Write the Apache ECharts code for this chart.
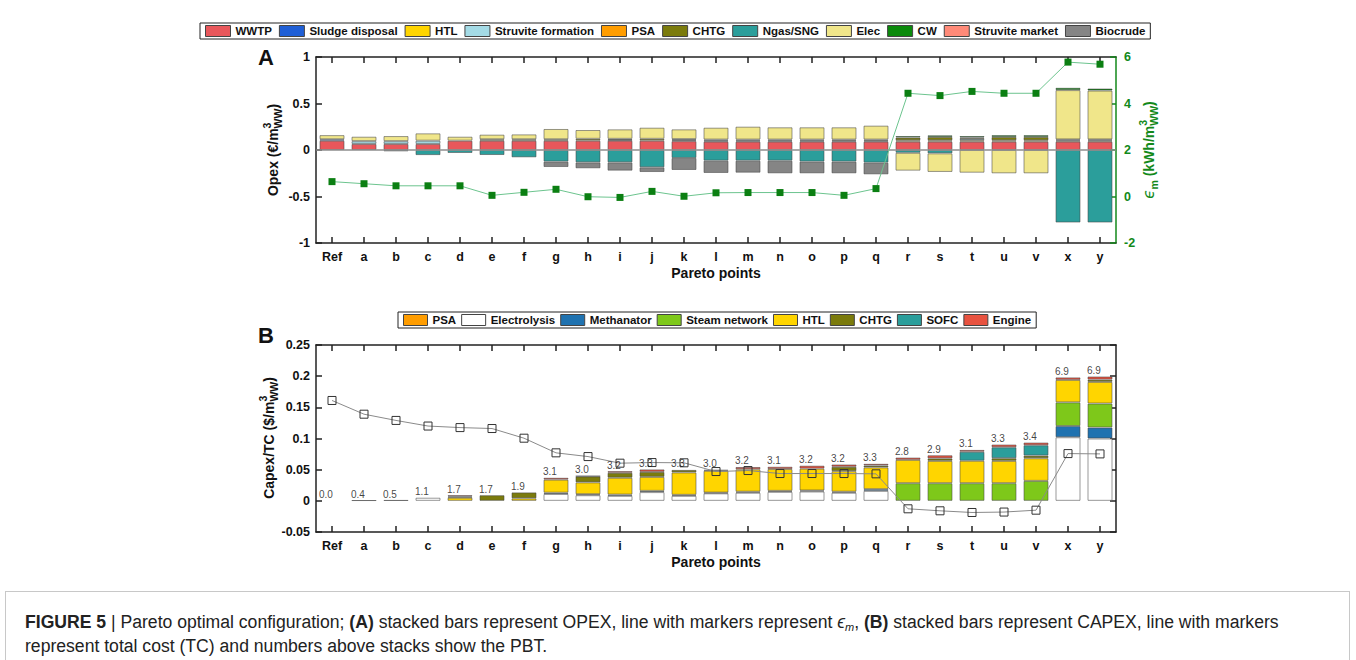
<!DOCTYPE html>
<html>
<head>
<meta charset="utf-8">
<script src="https://cdn.jsdelivr.net/npm/echarts@6/dist/echarts.min.js"></script>
<style>
  html, body { margin: 0; padding: 0; background: #fff; }
  #chart { position: absolute; left: 0; top: 0; width: 1356px; height: 660px; }
  #caption {
    position: absolute; left: 5px; top: 591px; width: 1345px; height: 80px;
    border: 1px solid #c8c8c8; border-bottom: none; box-sizing: border-box;
    font-family: "Liberation Sans", Arial, sans-serif; font-size: 17.6px; color: #222;
    line-height: 24px; padding: 18px 0 0 19px;
  }
  #caption sub { font-size: 11px; line-height: 0; vertical-align: -3px; }
</style>
</head>
<body>
<div id="chart"></div>
<div id="caption"><b>FIGURE 5</b> | Pareto optimal configuration; <b>(A)</b> stacked bars represent OPEX, line with markers represent <i>ϵ<sub>m</sub></i>, <b>(B)</b> stacked bars represent CAPEX, line with markers<br>represent total cost (TC) and numbers above stacks show the PBT.</div>
<script>
// ---- Pareto points ----
const categories = ['Ref','a','b','c','d','e','f','g','h','i','j','k','l','m','n','o','p','q','r','s','t','u','v','x','y'];

// ---- Panel A: OPEX contributions (€/m3 WW) ----
const opexWWTP             = [0.10,0.065,0.065,0.065,0.10,0.10,0.10,0.10,0.10,0.10,0.10,0.095,0.09,0.09,0.09,0.09,0.09,0.09,0.09,0.09,0.09,0.09,0.09,0.09,0.09];
const opexSludge           = [0.015,0,0,0,0,0,0,0,0,0,0,0,0,0,0,0,0,0,0,0,0,0,0,0,0];
const opexHTL              = [0,0,0,0,0,0,0,0,0,0.008,0,0.01,0.01,0.01,0.01,0.01,0.01,0.01,0.014,0.014,0.014,0.014,0.014,0.012,0.012];
const opexStruviteForm     = [0,0.03,0.03,0.035,0,0,0,0,0,0,0,0.012,0.012,0.012,0.012,0.012,0,0,0,0,0.016,0,0,0,0];
const opexPSA              = [0,0,0,0,0,0,0,0,0,0,0,0,0,0,0,0,0,0,0,0,0,0,0,0,0];
const opexCHTG             = [0,0,0,0,0,0.015,0.015,0.015,0.02,0.012,0.02,0,0,0,0,0,0.012,0.012,0.03,0.036,0.014,0.036,0.036,0.012,0.012];
const opexNgas             = [0,0,-0.015,-0.055,-0.032,-0.054,-0.079,-0.125,-0.133,-0.133,-0.186,-0.086,-0.115,-0.115,-0.115,-0.125,-0.125,-0.136,-0.03,-0.036,0,0,0,-0.78,-0.78];
const opexElec             = [0.045,0.048,0.055,0.079,0.043,0.05,0.053,0.111,0.095,0.102,0.12,0.105,0.128,0.139,0.132,0.132,0.132,0.15,-0.192,-0.2,-0.244,-0.251,-0.251,0.53,0.525];
const opexCW               = [0,0,0,0,0,0,0,0,0,0,0,0,0,0,0,0,0,0,0.016,0.018,0.016,0.02,0.02,0.025,0.022];
const opexStruviteMarket   = [0,0,0,0,0,0,0,0,0,0,0,0,0,0,0,0,0,0,0,0,0,0,0,0,0];
const opexBiocrude         = [0,0,0,0,0,0,0,-0.058,-0.064,-0.089,-0.051,-0.129,-0.132,-0.129,-0.136,-0.126,-0.126,-0.126,0,0,0,0,0,0,0];

// ε_m (kWh/m3 WW), right axis
const epsM = [0.64,0.55,0.46,0.46,0.46,0.05,0.18,0.31,-0.01,-0.04,0.22,0.01,0.16,0.17,0.17,0.17,0.05,0.34,4.44,4.34,4.52,4.44,4.44,5.78,5.69];

// ---- Panel B: CAPEX contributions ($/m3 WW) ----
const capexElectrolysis = [0,0,0,0.005,0,0,0,0.011,0.009,0.008,0.014,0.008,0.012,0.013,0.0144,0.015,0.013,0.016,0,0,0,0,0,0.102,0.1];
const capexMethanator   = [0,0,0,0,0,0,0,0.002,0.0016,0.002,0.002,0.0016,0.0012,0.0016,0.0016,0.0016,0.0016,0.0027,0,0,0,0,0,0.018,0.0176];
const capexSteam        = [0,0,0,0,0,0,0,0,0,0,0,0,0,0,0,0,0,0,0.0283,0.0283,0.0283,0.0283,0.032,0.038,0.0385];
const capexHTL          = [0,0,0,0,0.005,0,0.004,0.021,0.019,0.027,0.0224,0.036,0.035,0.036,0.035,0.035,0.033,0.035,0.0374,0.0358,0.036,0.0358,0.0363,0.036,0.0347];
const capexCHTG         = [0,0.001,0.0012,0,0.002,0.009,0.0095,0,0.0096,0.008,0.008,0.004,0,0,0,0,0.007,0.003,0,0.004,0,0.0043,0.0043,0,0.0037];
const capexSOFC         = [0,0,0,0,0,0,0,0,0,0,0,0,0,0,0,0,0,0,0,0,0.0144,0.0176,0.0166,0,0];
const capexEngine       = [0,0,0,0,0.002,0,0,0.003,0.0008,0.0027,0.004,0,0.0016,0.0037,0.0037,0.0048,0.0037,0.0027,0.0037,0.005,0.003,0.0043,0.0043,0.004,0.005];
const capexPSA          = [0,0,0,0,0,0,0,0,0,0,0,0,0,0,0,0,0,0,0,0,0,0,0,0,0];

// total cost ($/m3 WW) and payback time labels
const totalCost = [0.161,0.139,0.129,0.12,0.1175,0.116,0.1005,0.077,0.071,0.0604,0.0614,0.061,0.047,0.0486,0.0438,0.0438,0.0438,0.0433,-0.0128,-0.016,-0.0187,-0.018,-0.015,0.0758,0.0753];
const pbtLabels = ['0.0','0.4','0.5','1.1','1.7','1.7','1.9','3.1','3.0','3.2','3.3','3.3','3.0','3.2','3.1','3.2','3.2','3.3','2.8','2.9','3.1','3.3','3.4','6.9','6.9'];

const legendA = ['WWTP','Sludge disposal','HTL','Struvite formation','PSA','CHTG','Ngas/SNG','Elec','CW','Struvite market','Biocrude'];
const legendB = ['PSA','Electrolysis','Methanator','Steam network','HTL','CHTG','SOFC','Engine'];

// ---- styling ----
const FONT = '"Liberation Sans", Arial, Helvetica, sans-serif';
const GREEN = '#13891a';
const colors = {
  'WWTP': '#e8575b', 'Sludge disposal': '#1f5fd6', 'HTL': '#ffd500', 'Struvite formation': '#a4dbe6',
  'PSA': '#ff9d00', 'CHTG': '#7b7b0c', 'Ngas/SNG': '#2b9e9b', 'Elec': '#f0e68a', 'CW': '#0b8a0b',
  'Struvite market': '#ff8a78', 'Biocrude': '#858585',
  'Electrolysis': '#ffffff', 'Methanator': '#1f72b0', 'Steam network': '#7ec81a', 'SOFC': '#2b9e9b', 'Engine': '#e8523f'
};

const opexStack = [
  ['WWTP', opexWWTP], ['Sludge disposal', opexSludge], ['HTL', opexHTL], ['Struvite formation', opexStruviteForm],
  ['PSA', opexPSA], ['CHTG', opexCHTG], ['Ngas/SNG', opexNgas], ['Elec', opexElec], ['CW', opexCW],
  ['Struvite market', opexStruviteMarket], ['Biocrude', opexBiocrude]
];
const capexStack = [
  ['Electrolysis', capexElectrolysis], ['Methanator', capexMethanator], ['Steam network', capexSteam],
  ['HTL', capexHTL], ['CHTG', capexCHTG], ['SOFC', capexSOFC], ['Engine', capexEngine], ['PSA', capexPSA]
];
const capexTotals = categories.map((_, i) => capexStack.reduce((s, [, arr]) => s + (arr[i] > 0 ? arr[i] : 0), 0));

function barSeries(name, arr, xi, yi, stack) {
  return {
    name, type: 'bar', stack, xAxisIndex: xi, yAxisIndex: yi, barWidth: 25,
    data: arr.map(v => (v === 0 ? '-' : v)),
    itemStyle: { color: colors[name], borderColor: 'rgba(70,70,70,0.55)', borderWidth: 1 },
    emphasis: { disabled: true }, z: 2
  };
}

// rotated axis titles with stacked super/subscripts
const mctx = document.createElement('canvas').getContext('2d');
function tw(t, f) { mctx.font = f; return mctx.measureText(t).width; }
function rotatedTitle(cx, cy, groups, fill) {
  const widths = groups.map(g => Math.max(...g.map(p => tw(p.t, p.f))));
  const total = widths.reduce((a, b) => a + b, 0);
  let x = -total / 2;
  const children = [];
  groups.forEach((g, i) => {
    g.forEach(p => children.push({
      type: 'text', x: x, y: p.dy || 0,
      style: { text: p.t, font: p.f, fill, align: 'left', verticalAlign: 'middle', textAlign: 'left', textVerticalAlign: 'middle' }
    }));
    x += widths[i];
  });
  return { type: 'group', x: cx, y: cy, rotation: Math.PI / 2, silent: true, children };
}
const fMain = 'bold 14px ' + FONT;
const fSmall = 'bold 10.5px ' + FONT;
const unitsGroups = (lead) => [
  [{ t: lead, f: fMain }],
  [{ t: '3', f: fSmall, dy: -6 }, { t: 'WW', f: fSmall, dy: 5 }],
  [{ t: ')', f: fMain }]
];

const tickFont = { fontFamily: FONT, fontWeight: 'bold', fontSize: 12.5, color: '#111' };
const axisLineBlack = { show: true, lineStyle: { color: '#222', width: 1.5 } };
const tickIn = (color) => ({ show: true, inside: true, length: 6, lineStyle: { color, width: 1.5 } });

function catAxis(grid, position, showLabels) {
  return {
    type: 'category', data: categories, gridIndex: grid, position, boundaryGap: true,
    axisLine: { show: true, onZero: false, lineStyle: { color: '#222', width: 1.5 } },
    axisTick: Object.assign(tickIn('#222'), { alignWithLabel: true }),
    axisLabel: Object.assign({ show: showLabels, margin: 7, interval: 0 }, tickFont),
    splitLine: { show: false }
  };
}

const series = [];
opexStack.forEach(([n, arr]) => series.push(barSeries(n, arr, 0, 0, 'opex')));
// grey zero reference line across panel A, drawn above the bars
series[0].markLine = {
  silent: true, z: 5, symbol: ['none', 'none'], label: { show: false },
  lineStyle: { color: '#8e8e8e', width: 1.5, type: 'solid' },
  emphasis: { disabled: true },
  data: [{ yAxis: 0 }]
};
series.push({
  name: 'ε_m', type: 'line', xAxisIndex: 0, yAxisIndex: 1, data: epsM, z: 6,
  symbol: 'rect', symbolSize: 7, itemStyle: { color: '#0b7f12' },
  lineStyle: { color: '#6cc48e', width: 1 }, emphasis: { disabled: true }
});
capexStack.forEach(([n, arr]) => series.push(barSeries(n, arr, 2, 2, 'capex')));
series.push({
  name: 'TC', type: 'line', xAxisIndex: 2, yAxisIndex: 2, data: totalCost, z: 6,
  symbol: 'rect', symbolSize: 8,
  itemStyle: { color: 'rgba(255,255,255,0)', borderColor: '#333', borderWidth: 1 },
  lineStyle: { color: '#8a8a8a', width: 1 }, emphasis: { disabled: true }
});
series.push({
  name: 'PBT', type: 'scatter', xAxisIndex: 2, yAxisIndex: 2, z: 7,
  data: capexTotals.map((v, i) => [i, v]), symbolSize: 2, itemStyle: { color: 'rgba(0,0,0,0)' },
  label: {
    show: true, position: [-12, -10], align: 'left', verticalAlign: 'top',
    formatter: p => pbtLabels[p.dataIndex], fontFamily: FONT, fontSize: 10, color: '#111'
  },
  emphasis: { disabled: true }
});

const legendCommon = {
  orient: 'horizontal', selectedMode: false, icon: 'rect', itemHeight: 11,
  padding: [2, 5, 2, 5], borderColor: '#222', borderWidth: 1,
  itemStyle: { borderColor: '#444', borderWidth: 1 },
  textStyle: { fontFamily: FONT, fontWeight: 'bold', fontSize: 11.5, color: '#111' }
};

const option = {
  animation: false,
  backgroundColor: '#fff',
  legend: [
    Object.assign({ left: 200, top: 23, data: legendA, itemWidth: 25, itemGap: 7 }, legendCommon),
    Object.assign({ left: 398, top: 312, data: legendB, itemWidth: 24, itemGap: 5 }, legendCommon)
  ],
  grid: [
    { left: 316, top: 57, width: 800, height: 186 },
    { left: 316, top: 345, width: 800, height: 187 }
  ],
  xAxis: [
    catAxis(0, 'bottom', true),
    catAxis(0, 'top', false),
    catAxis(1, 'bottom', true),
    catAxis(1, 'top', false)
  ],
  yAxis: [
    {
      type: 'value', gridIndex: 0, position: 'left', min: -1, max: 1, interval: 0.5,
      axisLine: axisLineBlack, axisTick: tickIn('#222'),
      axisLabel: Object.assign({ margin: 6 }, tickFont), splitLine: { show: false }
    },
    {
      type: 'value', gridIndex: 0, position: 'right', min: -2, max: 6, interval: 2,
      axisLine: { show: true, lineStyle: { color: GREEN, width: 1.5 } }, axisTick: tickIn(GREEN),
      axisLabel: Object.assign({ margin: 8 }, tickFont, { color: GREEN }), splitLine: { show: false }
    },
    {
      type: 'value', gridIndex: 1, position: 'left', min: -0.05, max: 0.25, interval: 0.05,
      axisLine: axisLineBlack, axisTick: tickIn('#222'),
      axisLabel: Object.assign({ margin: 6, formatter: v => String(Math.round(v * 100) / 100) }, tickFont),
      splitLine: { show: false }
    },
    {
      type: 'value', gridIndex: 1, position: 'right', min: -0.05, max: 0.25, interval: 0.05,
      axisLine: axisLineBlack, axisTick: tickIn('#222'), axisLabel: { show: false }, splitLine: { show: false }
    }
  ],
  series,
  graphic: [
    { type: 'text', x: 266, y: 57, silent: true, style: { text: 'A', font: 'bold 22px ' + FONT, fill: '#111', align: 'center', verticalAlign: 'middle', textAlign: 'center', textVerticalAlign: 'middle' } },
    { type: 'text', x: 266, y: 335, silent: true, style: { text: 'B', font: 'bold 22px ' + FONT, fill: '#111', align: 'center', verticalAlign: 'middle', textAlign: 'center', textVerticalAlign: 'middle' } },
    { type: 'text', x: 716, y: 273, silent: true, style: { text: 'Pareto points', font: 'bold 14px ' + FONT, fill: '#111', align: 'center', verticalAlign: 'middle', textAlign: 'center', textVerticalAlign: 'middle' } },
    { type: 'text', x: 716, y: 562, silent: true, style: { text: 'Pareto points', font: 'bold 14px ' + FONT, fill: '#111', align: 'center', verticalAlign: 'middle', textAlign: 'center', textVerticalAlign: 'middle' } },
    rotatedTitle(273, 150, unitsGroups('Opex (€/m'), '#111'),
    rotatedTitle(269, 438, unitsGroups('Capex/TC ($/m'), '#111'),
    rotatedTitle(1149, 150, [
      [{ t: 'ϵ', f: 'italic 15px "DejaVu Sans", ' + FONT }],
      [{ t: 'm', f: fSmall, dy: 5 }],
      [{ t: ' (kWh/m', f: fMain }],
      [{ t: '3', f: fSmall, dy: -6 }, { t: 'WW', f: fSmall, dy: 5 }],
      [{ t: ')', f: fMain }]
    ], GREEN)
  ]
};

const chart = echarts.init(document.getElementById('chart'), null, { renderer: 'svg', width: 1356, height: 660 });
chart.setOption(option);
</script>
</body>
</html>
